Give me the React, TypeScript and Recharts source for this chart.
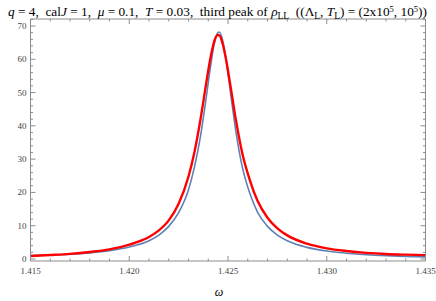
import React from "react";
import { LineChart, Line, XAxis, YAxis } from "recharts";

const omega = [
  1.415, 1.416, 1.417, 1.418, 1.419, 1.42, 1.421, 1.4215, 1.422, 1.4225, 1.423,
  1.4233, 1.4236, 1.4239, 1.4241, 1.4243, 1.42445, 1.42455, 1.4247, 1.4249,
  1.4251, 1.4254, 1.4257, 1.4261, 1.4265, 1.427, 1.4275, 1.428, 1.429, 1.43,
  1.431, 1.432, 1.433, 1.434, 1.435,
];
const blueVals = [
  1.0, 1.2, 1.45, 1.85, 2.5, 3.6, 5.5, 7.2, 9.8, 13.9, 20.8,
  27.6, 36.6, 48.6, 57.2, 64.5, 67.6, 68.2, 66.4, 60.0,
  51.2, 38.3, 28.3, 19.8, 14.0, 9.8, 7.2, 5.5, 3.5, 2.4,
  1.75, 1.3, 1.0, 0.8, 0.65,
];
const redVals = [
  0.9, 1.2, 1.55, 2.1, 2.9, 4.3, 6.6, 8.6, 11.6, 16.6, 24.8,
  32.1, 41.7, 52.9, 60.0, 65.3, 67.2, 67.2, 65.3, 60.0,
  52.9, 41.8, 32.4, 23.8, 17.4, 12.4, 9.2, 7.1, 4.6, 3.2,
  2.4, 1.85, 1.5, 1.3, 1.15,
];
const xTicks = [
  1.415, 1.416, 1.417, 1.418, 1.419, 1.42, 1.421, 1.422, 1.423, 1.424, 1.425,
  1.426, 1.427, 1.428, 1.429, 1.43, 1.431, 1.432, 1.433, 1.434, 1.435,
];
const yTicks = [
  0, 2, 4, 6, 8, 10, 12, 14, 16, 18, 20, 22, 24, 26, 28, 30, 32, 34, 36, 38,
  40, 42, 44, 46, 48, 50, 52, 54, 56, 58, 60, 62, 64, 66, 68, 70, 72,
];

const data = omega.map((w, i) => ({ w, blue: blueVals[i], red: redVals[i] }));

const FRAME = "#8c8c8c";
const LABEL = "#444";
const FONT = "'Liberation Serif', 'DejaVu Serif', serif";

const isMajorX = (v: number) => Math.round(v * 1000) % 5 === 0;
const isMajorY = (v: number) => Math.round(v) % 10 === 0;

const BottomTick = (p: any) => {
  const { x, y, payload } = p;
  const major = isMajorX(payload.value);
  return (
    <g>
      <line x1={x} x2={x} y1={y} y2={y - (major ? 5 : 2.5)} stroke={FRAME} strokeWidth={1} />
      {major && (
        <text x={x} y={y + 13} textAnchor="middle" fontSize={9} fill={LABEL} style={{ fontFamily: FONT }}>
          {payload.value.toFixed(3)}
        </text>
      )}
    </g>
  );
};
const TopTick = (p: any) => {
  const { x, y, payload } = p;
  const major = isMajorX(payload.value);
  return <line x1={x} x2={x} y1={y} y2={y + (major ? 5 : 2.5)} stroke={FRAME} strokeWidth={1} />;
};
const LeftTick = (p: any) => {
  const { x, y, payload } = p;
  const major = isMajorY(payload.value);
  return (
    <g>
      <line x1={x} x2={x + (major ? 5 : 2.5)} y1={y} y2={y} stroke={FRAME} strokeWidth={1} />
      {major && (
        <text x={x - 4} y={y + 3} textAnchor="end" fontSize={9} fill={LABEL} style={{ fontFamily: FONT }}>
          {payload.value}
        </text>
      )}
    </g>
  );
};
const RightTick = (p: any) => {
  const { x, y, payload } = p;
  const major = isMajorY(payload.value);
  return <line x1={x} x2={x - (major ? 5 : 2.5)} y1={y} y2={y} stroke={FRAME} strokeWidth={1} />;
};

export default function App() {
  return (
    <div style={{ position: "absolute", left: 0, top: 0, width: 436, height: 301, background: "#fff" }}>
      <LineChart
        width={436}
        height={301}
        data={data}
        margin={{ top: 18, right: 9.5, bottom: 39, left: 29.5 }}
      >
        <XAxis
          xAxisId="b"
          dataKey="w"
          type="number"
          domain={[1.415, 1.435]}
          ticks={xTicks}
          interval={0}
          height={1}
          tickSize={0}
          tickMargin={0}
          tickLine={false}
          axisLine={{ stroke: FRAME }}
          tick={<BottomTick />}
          allowDataOverflow
        />
        <XAxis
          xAxisId="t"
          orientation="top"
          dataKey="w"
          type="number"
          domain={[1.415, 1.435]}
          ticks={xTicks}
          interval={0}
          height={1}
          tickSize={0}
          tickMargin={0}
          tickLine={false}
          axisLine={{ stroke: FRAME }}
          tick={<TopTick />}
          allowDataOverflow
        />
        <YAxis
          yAxisId="l"
          type="number"
          domain={[-0.6, 72.1]}
          ticks={yTicks}
          interval={0}
          width={1}
          tickSize={0}
          tickMargin={0}
          tickLine={false}
          axisLine={{ stroke: FRAME }}
          tick={<LeftTick />}
          allowDataOverflow
        />
        <YAxis
          yAxisId="r"
          orientation="right"
          type="number"
          domain={[-0.6, 72.1]}
          ticks={yTicks}
          interval={0}
          width={1}
          tickSize={0}
          tickMargin={0}
          tickLine={false}
          axisLine={{ stroke: FRAME }}
          tick={<RightTick />}
          allowDataOverflow
        />
        <Line
          xAxisId="b"
          yAxisId="l"
          dataKey="blue"
          type="monotone"
          stroke="#5E81B5"
          strokeWidth={1.6}
          dot={false}
          isAnimationActive={false}
        />
        <Line
          xAxisId="b"
          yAxisId="l"
          dataKey="red"
          type="monotone"
          stroke="#FF0000"
          strokeWidth={2.4}
          dot={false}
          isAnimationActive={false}
        />
      </LineChart>
      <svg
        width={436}
        height={301}
        style={{ position: "absolute", left: 0, top: 0, pointerEvents: "none" }}
      >
        <text
          x={8}
          y={15.5}
          textAnchor="start"
          fontSize={13.3}
          fill="#000"
          xmlSpace="preserve"
          style={{ whiteSpace: "pre", fontFamily: FONT }}
        >
          <tspan fontStyle="italic">q</tspan>
          <tspan>{" = 4,  cal"}</tspan>
          <tspan fontStyle="italic">J</tspan>
          <tspan>{" = 1,  "}</tspan>
          <tspan fontStyle="italic">μ</tspan>
          <tspan>{" = 0.1,  "}</tspan>
          <tspan fontStyle="italic">T</tspan>
          <tspan>{" = 0.03,  third peak of "}</tspan>
          <tspan fontStyle="italic">ρ</tspan>
          <tspan fontSize={9.5} dy={3}>LL</tspan>
          <tspan dy={-3}>{"  ((Λ"}</tspan>
          <tspan fontSize={9.5} dy={3}>L</tspan>
          <tspan dy={-3}>{", "}</tspan>
          <tspan fontStyle="italic">T</tspan>
          <tspan fontSize={9.5} dy={3}>L</tspan>
          <tspan dy={-3}>{") = (2x10"}</tspan>
          <tspan fontSize={8.5} dy={-4}>5</tspan>
          <tspan dy={4}>{", 10"}</tspan>
          <tspan fontSize={8.5} dy={-4}>5</tspan>
          <tspan dy={4}>{"))"}</tspan>
        </text>
        <text x={219} y={296} textAnchor="middle" fontSize={12} fontStyle="italic" fill="#000" style={{ fontFamily: FONT }}>
          ω
        </text>
      </svg>
    </div>
  );
}
